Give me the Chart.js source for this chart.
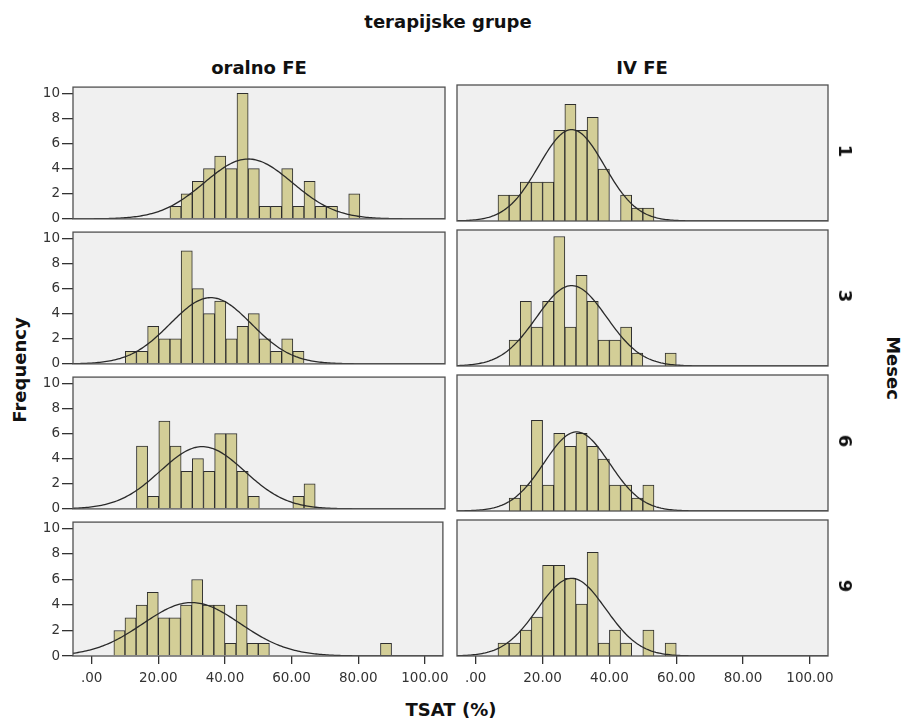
<!DOCTYPE html>
<html>
<head>
<meta charset="utf-8">
<script src="https://cdn.jsdelivr.net/npm/chart.js@4.4.1/dist/chart.umd.min.js"></script>
<style>
  body { margin: 0; background: #fff; }
  #wrap { position: relative; width: 904px; height: 722px; font-family: "DejaVu Sans", Verdana, sans-serif; color: #111; }
  #wrap canvas { position: absolute; }
  .lbl { position: absolute; font-weight: bold; font-size: 18px; line-height: 1; white-space: nowrap; }
</style>
</head>
<body>
<div id="wrap">
  <div class="lbl" style="left:448px;top:22px;transform:translate(-50%,-50%)">terapijske grupe</div>
  <div class="lbl" id="colA" style="left:259px;top:68px;transform:translate(-50%,-50%)">oralno FE</div>
  <div class="lbl" id="colB" style="left:642px;top:68px;transform:translate(-50%,-50%)">IV FE</div>
  <div class="lbl" style="left:20px;top:370px;transform:translate(-50%,-50%) rotate(-90deg)">Frequency</div>
  <div class="lbl" style="left:893px;top:368px;transform:translate(-50%,-50%) rotate(90deg)">Mesec</div>
  <div class="lbl" style="left:451px;top:710px;transform:translate(-50%,-50%)">TSAT (%)</div>
</div>
<script>
// TSAT histograms by therapy group (columns) and month (rows)
const groups = ['oralno FE', 'IV FE'];
const months = ['1', '3', '6', '9'];
const binWidth = 10 / 3;
const xTickValues = [0, 20, 40, 60, 80, 100];
const xTickLabels = ['.00', '20.00', '40.00', '60.00', '80.00', '100.00'];
const yTickValues = [0, 2, 4, 6, 8, 10];

// frequency per bin; bin k covers [k*binWidth, (k+1)*binWidth)
const oral1 = [0, 0, 0, 0, 0, 0, 0, 1, 2, 3, 4, 5, 4, 10, 4, 1, 1, 4, 1, 3, 1, 1, 0, 2];
const oral3 = [0, 0, 0, 1, 1, 3, 2, 2, 9, 6, 4, 5, 2, 3, 4, 2, 1, 2, 1];
const oral6 = [0, 0, 0, 0, 5, 1, 7, 5, 3, 4, 3, 6, 6, 3, 1, 0, 0, 0, 1, 2];
const oral9 = [0, 0, 2, 3, 4, 5, 3, 3, 4, 6, 4, 4, 1, 4, 1, 1, 0, 0, 0, 0, 0, 0, 0, 0, 0, 0, 1];
const iv1 = [0, 0, 2, 2, 3, 3, 3, 7, 9, 7, 8, 4, 0, 2, 1, 1];
const iv3 = [0, 0, 0, 2, 5, 3, 5, 10, 3, 7, 5, 2, 2, 3, 1, 0, 0, 1];
const iv6 = [0, 0, 0, 1, 2, 7, 2, 6, 5, 6, 5, 4, 2, 2, 1, 2];
const iv9 = [0, 0, 1, 1, 2, 3, 7, 7, 6, 4, 8, 1, 2, 1, 0, 2, 0, 1];

// fitted normal curve: mean and std. deviation per month
const oralMean = [46.7, 35.5, 33.0, 30.0];
const oralSd = [13.1, 12.1, 12.6, 14.6];
const ivMean = [28.7, 28.7, 30.2, 28.7];
const ivSd = [9.8, 10.5, 9.8, 10.2];

const freq = [[oral1, iv1], [oral3, iv3], [oral6, iv6], [oral9, iv9]];
const means = [oralMean, ivMean];
const sds = [oralSd, ivSd];

const xMin = -5.6, xMax = 105.4;
const tickFont = { family: '"DejaVu Sans", Verdana, sans-serif', size: 13.5 };
const inkColor = '#333';

const panelFrame = {
  id: 'panelFrame',
  beforeDatasetsDraw(chart) {
    const { ctx, chartArea: a } = chart;
    ctx.save();
    ctx.fillStyle = '#f0f0f0';
    ctx.fillRect(a.left, a.top, a.width, a.height);
    ctx.restore();
  },
  afterDatasetsDraw(chart) {
    const { ctx, chartArea: a } = chart;
    ctx.save();
    ctx.strokeStyle = '#505050';
    ctx.lineWidth = 1.3;
    ctx.strokeRect(a.left, a.top, a.width, a.height);
    ctx.restore();
  }
};

function normalCurve(counts, mean, sd) {
  const n = counts.reduce((s, v) => s + v, 0);
  const pts = [];
  for (let x = xMin; x <= xMax; x += 0.5) {
    const z = (x - mean) / sd;
    pts.push({ x: x, y: n * binWidth * Math.exp(-0.5 * z * z) / (sd * Math.sqrt(2 * Math.PI)) });
  }
  return pts;
}

const wrap = document.getElementById('wrap');
const panelTops = [85, 230, 375, 520];
const panelH = 136;

months.forEach((month, row) => {
  const bottomRow = row === months.length - 1;
  groups.forEach((group, col) => {
    const counts = freq[row][col];
    const canvas = document.createElement('canvas');
    const left = col === 0 ? 0 : 450;
    const width = col === 0 ? 455 : 454;
    const top = panelTops[row] - 8;
    const height = panelH + 8 + (bottomRow ? 34 : 8);
    canvas.width = width;
    canvas.height = height;
    canvas.style.left = left + 'px';
    canvas.style.top = top + 'px';
    wrap.appendChild(canvas);

    const bars = counts
      .map((c, k) => ({ x: (k + 0.5) * binWidth, y: c }))
      .filter(p => p.y > 0);

    new Chart(canvas, {
      type: 'bar',
      data: {
        datasets: [
          {
            type: 'line',
            data: normalCurve(counts, means[col][row], sds[col][row]),
            borderColor: '#2a2a2a',
            borderWidth: 1.3,
            pointRadius: 0,
            tension: 0,
            order: 0
          },
          {
            type: 'bar',
            data: bars,
            backgroundColor: '#d3ce97',
            borderColor: '#2e2e2e',
            borderWidth: 1,
            barPercentage: 1,
            categoryPercentage: 1,
            grouped: false,
            order: 1
          }
        ]
      },
      options: {
        responsive: false,
        animation: false,
        events: [],
        layout: {
          padding: col === 0
            ? { left: 0, right: 10, top: 8, bottom: bottomRow ? 0 : 8 }
            : { left: 7, right: 76, top: 8, bottom: bottomRow ? 0 : 8 }
        },
        plugins: { legend: { display: false }, tooltip: { enabled: false } },
        scales: {
          x: {
            type: 'linear',
            min: xMin,
            max: xMax,
            offset: false,
            display: bottomRow,
            afterFit: s => { if (bottomRow) s.height = 34; },
            afterBuildTicks: s => { s.ticks = xTickValues.map(v => ({ value: v })); },
            ticks: {
              callback: v => xTickLabels[xTickValues.indexOf(v)],
              font: tickFont,
              color: inkColor,
              padding: 6,
              maxRotation: 0,
              autoSkip: false
            },
            grid: { drawOnChartArea: false, drawTicks: true, tickLength: 8, color: inkColor, lineWidth: 1.3, offset: false },
            border: { display: false }
          },
          y: {
            min: 0,
            max: 10.5,
            display: col === 0,
            afterFit: s => { if (col === 0) s.width = 73; },
            afterBuildTicks: s => { s.ticks = yTickValues.map(v => ({ value: v })); },
            ticks: { font: tickFont, color: inkColor, padding: 2 },
            grid: { drawOnChartArea: false, drawTicks: true, tickLength: 11, color: inkColor, lineWidth: 1.3 },
            border: { display: false }
          }
        }
      },
      plugins: [panelFrame]
    });

    if (col === 1) {
      const lbl = document.createElement('div');
      lbl.className = 'lbl';
      lbl.textContent = month;
      lbl.style.left = '845px';
      lbl.style.top = (panelTops[row] + panelH / 2 - 2) + 'px';
      lbl.style.transform = 'translate(-50%,-50%) rotate(90deg)';
      wrap.appendChild(lbl);
    }
  });
});
</script>
</body>
</html>
